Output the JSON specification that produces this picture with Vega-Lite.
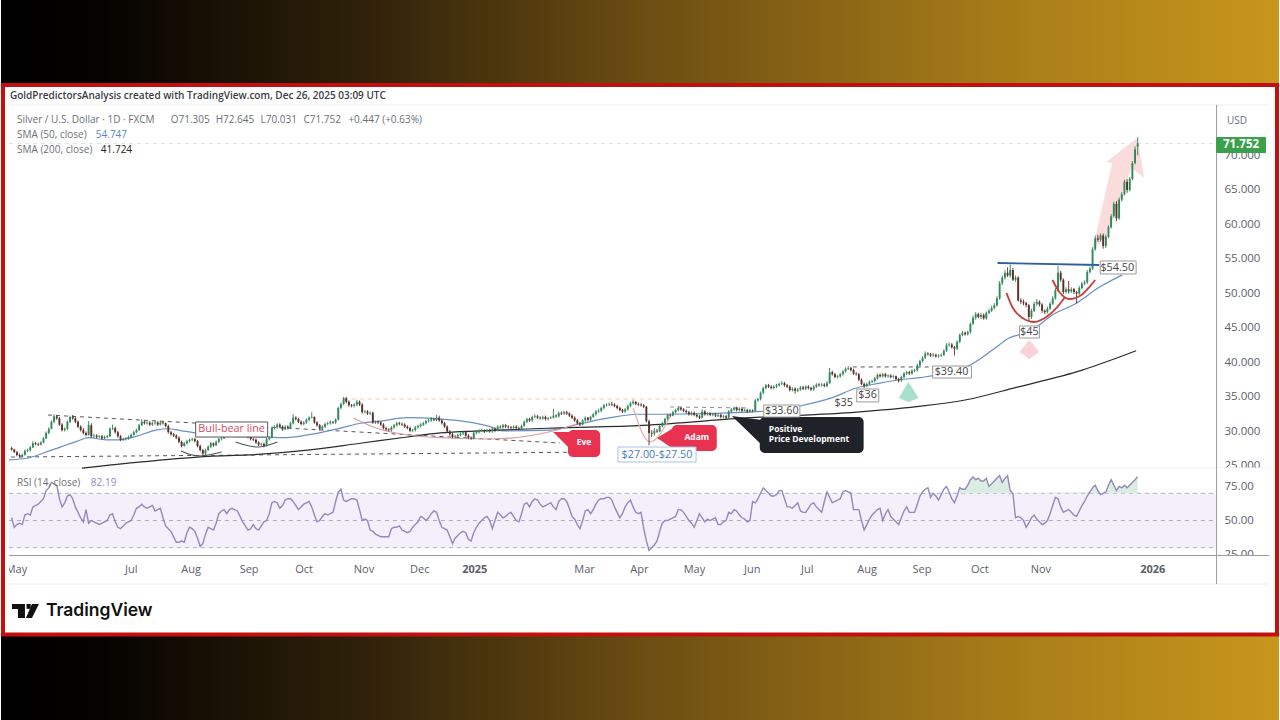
{
"$schema":"https://vega.github.io/schema/vega-lite/v6.json",
"width":1280,"height":720,"padding":{"left":0,"right":0,"top":0,"bottom":0},
"autosize":{"type":"fit","contains":"padding"},
"background":"white",
"config":{"view":{"stroke":null},"font":"Open Sans"},
"datasets":{
"candles":[
{"bar":4,"o":27.6,"h":27.8,"l":27.2,"c":27.4,"rsi":52},{"bar":5,"o":27.4,"h":27.5,"l":26.9,"c":27.0,"rsi":45},{"bar":6,"o":27.0,"h":27.2,"l":26.4,"c":26.6,"rsi":47},{"bar":7,"o":26.6,"h":26.8,"l":26.2,"c":26.4,"rsi":48},{"bar":8,"o":26.4,"h":26.8,"l":26.3,"c":26.6,"rsi":47},{"bar":9,"o":26.6,"h":27.4,"l":26.5,"c":27.2,"rsi":54},{"bar":10,"o":27.2,"h":27.5,"l":27.0,"c":27.3,"rsi":55},{"bar":11,"o":27.3,"h":27.9,"l":27.1,"c":27.7,"rsi":54},{"bar":12,"o":27.7,"h":28.6,"l":27.6,"c":28.3,"rsi":60},{"bar":13,"o":28.3,"h":28.5,"l":28.0,"c":28.2,"rsi":61},
{"bar":14,"o":28.2,"h":28.4,"l":27.9,"c":28.1,"rsi":62},{"bar":15,"o":28.1,"h":28.6,"l":28.0,"c":28.4,"rsi":64},{"bar":16,"o":28.4,"h":29.2,"l":28.3,"c":29.0,"rsi":66},{"bar":17,"o":29.0,"h":30.0,"l":28.9,"c":29.8,"rsi":72},{"bar":18,"o":29.8,"h":30.6,"l":29.6,"c":30.4,"rsi":74},{"bar":19,"o":30.4,"h":31.6,"l":30.3,"c":31.4,"rsi":78},{"bar":20,"o":31.4,"h":32.5,"l":31.2,"c":32.2,"rsi":77},{"bar":21,"o":32.2,"h":32.4,"l":31.7,"c":31.9,"rsi":76},{"bar":22,"o":31.9,"h":32.1,"l":30.8,"c":31.0,"rsi":66},{"bar":23,"o":31.0,"h":31.2,"l":30.0,"c":30.2,"rsi":60},
{"bar":24,"o":30.2,"h":30.6,"l":30.0,"c":30.4,"rsi":63},{"bar":25,"o":30.4,"h":31.6,"l":30.2,"c":31.4,"rsi":68},{"bar":26,"o":31.4,"h":32.3,"l":31.2,"c":32.1,"rsi":69},{"bar":27,"o":32.1,"h":32.4,"l":31.7,"c":31.9,"rsi":66},{"bar":28,"o":31.9,"h":32.1,"l":31.2,"c":31.4,"rsi":60},{"bar":29,"o":31.4,"h":31.6,"l":30.5,"c":30.7,"rsi":56},{"bar":30,"o":30.7,"h":30.9,"l":30.0,"c":30.2,"rsi":52},{"bar":31,"o":30.2,"h":30.5,"l":29.6,"c":29.8,"rsi":49},{"bar":32,"o":29.8,"h":30.0,"l":29.3,"c":29.5,"rsi":58},{"bar":33,"o":29.5,"h":31.5,"l":29.4,"c":30.9,"rsi":48},
{"bar":34,"o":30.9,"h":31.2,"l":29.1,"c":29.3,"rsi":50},{"bar":35,"o":29.3,"h":29.7,"l":29.1,"c":29.4,"rsi":49},{"bar":36,"o":29.4,"h":29.6,"l":29.0,"c":29.2,"rsi":48},{"bar":37,"o":29.2,"h":29.5,"l":29.0,"c":29.3,"rsi":47},{"bar":38,"o":29.3,"h":29.5,"l":28.8,"c":29.0,"rsi":48},{"bar":39,"o":29.0,"h":29.4,"l":28.9,"c":29.2,"rsi":49},{"bar":40,"o":29.2,"h":29.5,"l":29.0,"c":29.3,"rsi":50},{"bar":41,"o":29.3,"h":30.6,"l":29.2,"c":30.4,"rsi":54},{"bar":42,"o":30.4,"h":31.0,"l":30.2,"c":30.5,"rsi":55},{"bar":43,"o":30.5,"h":30.7,"l":29.7,"c":29.9,"rsi":49},
{"bar":44,"o":29.9,"h":30.1,"l":29.1,"c":29.3,"rsi":45},{"bar":45,"o":29.3,"h":29.5,"l":28.6,"c":28.8,"rsi":44},{"bar":46,"o":28.8,"h":29.1,"l":28.6,"c":28.9,"rsi":46},{"bar":47,"o":28.9,"h":29.2,"l":28.7,"c":29.0,"rsi":48},{"bar":48,"o":29.0,"h":29.4,"l":28.8,"c":29.2,"rsi":49},{"bar":49,"o":29.2,"h":29.7,"l":29.0,"c":29.5,"rsi":50},{"bar":50,"o":29.5,"h":30.1,"l":29.4,"c":29.9,"rsi":54},{"bar":51,"o":29.9,"h":30.4,"l":29.7,"c":30.2,"rsi":59},{"bar":52,"o":30.2,"h":31.1,"l":30.1,"c":30.9,"rsi":60},{"bar":53,"o":30.9,"h":31.8,"l":30.8,"c":31.4,"rsi":62},
{"bar":54,"o":31.4,"h":31.6,"l":31.0,"c":31.2,"rsi":60},{"bar":55,"o":31.2,"h":31.5,"l":31.0,"c":31.3,"rsi":59},{"bar":56,"o":31.3,"h":31.5,"l":30.8,"c":31.0,"rsi":60},{"bar":57,"o":31.0,"h":31.4,"l":30.8,"c":31.2,"rsi":61},{"bar":58,"o":31.2,"h":31.6,"l":31.0,"c":31.3,"rsi":57},{"bar":59,"o":31.3,"h":31.5,"l":30.8,"c":31.0,"rsi":58},{"bar":60,"o":31.0,"h":31.5,"l":30.9,"c":31.3,"rsi":59},{"bar":61,"o":31.3,"h":31.5,"l":31.0,"c":31.2,"rsi":52},{"bar":62,"o":31.2,"h":31.3,"l":30.6,"c":30.8,"rsi":46},{"bar":63,"o":30.8,"h":31.0,"l":29.7,"c":29.9,"rsi":44},
{"bar":64,"o":29.9,"h":30.1,"l":29.4,"c":29.6,"rsi":42},{"bar":65,"o":29.6,"h":29.8,"l":29.2,"c":29.4,"rsi":38},{"bar":66,"o":29.4,"h":29.6,"l":28.9,"c":29.1,"rsi":34},{"bar":67,"o":29.1,"h":29.3,"l":28.3,"c":28.5,"rsi":34},{"bar":68,"o":28.5,"h":28.7,"l":27.7,"c":27.9,"rsi":35},{"bar":69,"o":27.9,"h":28.5,"l":27.8,"c":28.3,"rsi":34},{"bar":70,"o":28.3,"h":28.8,"l":28.1,"c":28.6,"rsi":41},{"bar":71,"o":28.6,"h":29.0,"l":28.4,"c":28.8,"rsi":45},{"bar":72,"o":28.8,"h":29.1,"l":28.6,"c":28.9,"rsi":44},{"bar":73,"o":28.9,"h":29.1,"l":28.4,"c":28.6,"rsi":42},
{"bar":74,"o":28.6,"h":28.8,"l":27.7,"c":27.9,"rsi":37},{"bar":75,"o":27.9,"h":28.1,"l":27.1,"c":27.3,"rsi":31},{"bar":76,"o":27.3,"h":27.5,"l":26.5,"c":26.8,"rsi":33},{"bar":77,"o":26.8,"h":27.5,"l":26.6,"c":27.3,"rsi":40},{"bar":78,"o":27.3,"h":28.0,"l":27.2,"c":27.8,"rsi":45},{"bar":79,"o":27.8,"h":28.5,"l":27.6,"c":28.3,"rsi":44},{"bar":80,"o":28.3,"h":28.4,"l":27.8,"c":28.0,"rsi":43},{"bar":81,"o":28.0,"h":28.7,"l":27.9,"c":28.5,"rsi":48},{"bar":82,"o":28.5,"h":29.1,"l":28.3,"c":28.9,"rsi":55},{"bar":83,"o":28.9,"h":29.3,"l":28.7,"c":29.0,"rsi":57},
{"bar":84,"o":29.0,"h":29.7,"l":28.9,"c":29.5,"rsi":58},{"bar":85,"o":29.5,"h":30.1,"l":29.3,"c":29.9,"rsi":55},{"bar":86,"o":29.9,"h":30.4,"l":29.7,"c":30.1,"rsi":58},{"bar":87,"o":30.1,"h":30.3,"l":29.7,"c":29.9,"rsi":59},{"bar":88,"o":29.9,"h":30.2,"l":29.8,"c":30.0,"rsi":58},{"bar":89,"o":30.0,"h":30.5,"l":29.8,"c":30.3,"rsi":57},{"bar":90,"o":30.3,"h":30.4,"l":29.7,"c":29.9,"rsi":53},{"bar":91,"o":29.9,"h":30.1,"l":29.4,"c":29.6,"rsi":49},{"bar":92,"o":29.6,"h":29.8,"l":29.2,"c":29.4,"rsi":46},{"bar":93,"o":29.4,"h":29.6,"l":29.0,"c":29.2,"rsi":43},
{"bar":94,"o":29.2,"h":29.4,"l":28.7,"c":28.9,"rsi":44},{"bar":95,"o":28.9,"h":29.1,"l":28.6,"c":28.8,"rsi":47},{"bar":96,"o":28.8,"h":29.0,"l":28.2,"c":28.4,"rsi":44},{"bar":97,"o":28.4,"h":28.6,"l":27.9,"c":28.1,"rsi":43},{"bar":98,"o":28.1,"h":28.4,"l":27.9,"c":28.2,"rsi":46},{"bar":99,"o":28.2,"h":28.4,"l":27.7,"c":27.9,"rsi":49},{"bar":100,"o":27.9,"h":29.1,"l":27.8,"c":28.9,"rsi":50},{"bar":101,"o":28.9,"h":29.3,"l":28.7,"c":29.1,"rsi":55},{"bar":102,"o":29.1,"h":30.7,"l":29.0,"c":30.5,"rsi":63},{"bar":103,"o":30.5,"h":30.9,"l":30.3,"c":30.6,"rsi":64},
{"bar":104,"o":30.6,"h":31.2,"l":30.4,"c":31.0,"rsi":63},{"bar":105,"o":31.0,"h":31.2,"l":30.5,"c":30.7,"rsi":59},{"bar":106,"o":30.7,"h":30.9,"l":30.1,"c":30.3,"rsi":61},{"bar":107,"o":30.3,"h":30.9,"l":30.2,"c":30.7,"rsi":65},{"bar":108,"o":30.7,"h":30.9,"l":30.3,"c":30.5,"rsi":66},{"bar":109,"o":30.5,"h":31.4,"l":30.4,"c":31.2,"rsi":66},{"bar":110,"o":31.2,"h":32.5,"l":31.0,"c":32.0,"rsi":64},{"bar":111,"o":32.0,"h":32.2,"l":31.6,"c":31.8,"rsi":61},{"bar":112,"o":31.8,"h":32.0,"l":31.2,"c":31.4,"rsi":58},{"bar":113,"o":31.4,"h":31.6,"l":30.9,"c":31.1,"rsi":60},
{"bar":114,"o":31.1,"h":31.5,"l":30.9,"c":31.3,"rsi":62},{"bar":115,"o":31.3,"h":31.9,"l":31.1,"c":31.7,"rsi":63},{"bar":116,"o":31.7,"h":32.2,"l":31.5,"c":32.0,"rsi":64},{"bar":117,"o":32.0,"h":32.8,"l":31.9,"c":32.1,"rsi":60},{"bar":118,"o":32.1,"h":32.2,"l":31.1,"c":31.3,"rsi":54},{"bar":119,"o":31.3,"h":31.5,"l":30.7,"c":30.9,"rsi":49},{"bar":120,"o":30.9,"h":31.1,"l":30.1,"c":30.4,"rsi":50},{"bar":121,"o":30.4,"h":30.9,"l":30.2,"c":30.7,"rsi":53},{"bar":122,"o":30.7,"h":31.3,"l":30.5,"c":31.1,"rsi":55},{"bar":123,"o":31.1,"h":31.4,"l":30.9,"c":31.2,"rsi":54},
{"bar":124,"o":31.2,"h":31.6,"l":31.0,"c":31.4,"rsi":55},{"bar":125,"o":31.4,"h":31.5,"l":31.1,"c":31.3,"rsi":56},{"bar":126,"o":31.3,"h":31.9,"l":31.1,"c":31.7,"rsi":64},{"bar":127,"o":31.7,"h":33.6,"l":31.6,"c":33.4,"rsi":71},{"bar":128,"o":33.4,"h":34.2,"l":33.2,"c":34.0,"rsi":73},{"bar":129,"o":34.0,"h":35.0,"l":33.8,"c":34.8,"rsi":65},{"bar":130,"o":34.8,"h":35.0,"l":34.1,"c":34.3,"rsi":64},{"bar":131,"o":34.3,"h":34.5,"l":33.6,"c":33.8,"rsi":65},{"bar":132,"o":33.8,"h":34.0,"l":33.5,"c":33.7,"rsi":66},{"bar":133,"o":33.7,"h":34.1,"l":33.5,"c":33.9,"rsi":66},
{"bar":134,"o":33.9,"h":34.6,"l":33.7,"c":34.3,"rsi":65},{"bar":135,"o":34.3,"h":34.5,"l":33.7,"c":33.9,"rsi":58},{"bar":136,"o":33.9,"h":34.1,"l":32.6,"c":32.8,"rsi":50},{"bar":137,"o":32.8,"h":33.1,"l":32.6,"c":32.9,"rsi":51},{"bar":138,"o":32.9,"h":33.1,"l":32.4,"c":32.6,"rsi":50},{"bar":139,"o":32.6,"h":32.9,"l":32.4,"c":32.7,"rsi":43},{"bar":140,"o":32.7,"h":32.9,"l":31.1,"c":31.3,"rsi":42},{"bar":141,"o":31.3,"h":31.6,"l":31.1,"c":31.4,"rsi":40},{"bar":142,"o":31.4,"h":31.6,"l":31.1,"c":31.3,"rsi":39},{"bar":143,"o":31.3,"h":31.5,"l":30.8,"c":31.0,"rsi":38},
{"bar":144,"o":31.0,"h":31.2,"l":30.3,"c":30.5,"rsi":38},{"bar":145,"o":30.5,"h":30.7,"l":30.1,"c":30.3,"rsi":38},{"bar":146,"o":30.3,"h":30.5,"l":30.0,"c":30.2,"rsi":38},{"bar":147,"o":30.2,"h":30.8,"l":30.0,"c":30.6,"rsi":44},{"bar":148,"o":30.6,"h":31.1,"l":30.4,"c":30.9,"rsi":45},{"bar":149,"o":30.9,"h":31.4,"l":30.7,"c":31.2,"rsi":45},{"bar":150,"o":31.2,"h":31.4,"l":30.9,"c":31.1,"rsi":46},{"bar":151,"o":31.1,"h":31.3,"l":30.8,"c":31.0,"rsi":43},{"bar":152,"o":31.0,"h":31.2,"l":30.5,"c":30.7,"rsi":42},{"bar":153,"o":30.7,"h":30.9,"l":30.3,"c":30.5,"rsi":41},
{"bar":154,"o":30.5,"h":30.7,"l":29.9,"c":30.1,"rsi":42},{"bar":155,"o":30.1,"h":30.4,"l":29.9,"c":30.2,"rsi":45},{"bar":156,"o":30.2,"h":30.8,"l":30.0,"c":30.6,"rsi":47},{"bar":157,"o":30.6,"h":31.0,"l":30.4,"c":30.8,"rsi":49},{"bar":158,"o":30.8,"h":31.2,"l":30.6,"c":31.0,"rsi":53},{"bar":159,"o":31.0,"h":31.4,"l":30.8,"c":31.2,"rsi":52},{"bar":160,"o":31.2,"h":31.7,"l":31.0,"c":31.5,"rsi":50},{"bar":161,"o":31.5,"h":31.9,"l":31.3,"c":31.6,"rsi":52},{"bar":162,"o":31.6,"h":32.1,"l":31.4,"c":31.8,"rsi":55},{"bar":163,"o":31.8,"h":32.0,"l":31.5,"c":31.7,"rsi":57},
{"bar":164,"o":31.7,"h":32.4,"l":31.5,"c":32.0,"rsi":56},{"bar":165,"o":32.0,"h":32.3,"l":31.4,"c":31.6,"rsi":50},{"bar":166,"o":31.6,"h":31.8,"l":31.0,"c":31.2,"rsi":45},{"bar":167,"o":31.2,"h":31.4,"l":30.5,"c":30.7,"rsi":44},{"bar":168,"o":30.7,"h":30.9,"l":29.8,"c":30.0,"rsi":43},{"bar":169,"o":30.0,"h":30.2,"l":29.4,"c":29.6,"rsi":38},{"bar":170,"o":29.6,"h":29.8,"l":29.0,"c":29.2,"rsi":33},{"bar":171,"o":29.2,"h":29.5,"l":29.0,"c":29.3,"rsi":37},{"bar":172,"o":29.3,"h":29.7,"l":29.1,"c":29.5,"rsi":39},{"bar":173,"o":29.5,"h":29.9,"l":29.3,"c":29.7,"rsi":41},
{"bar":174,"o":29.7,"h":30.1,"l":29.5,"c":29.9,"rsi":42},{"bar":175,"o":29.9,"h":30.1,"l":29.2,"c":29.4,"rsi":41},{"bar":176,"o":29.4,"h":29.6,"l":28.9,"c":29.1,"rsi":36},{"bar":177,"o":29.1,"h":29.3,"l":28.8,"c":29.0,"rsi":35},{"bar":178,"o":29.0,"h":30.0,"l":28.9,"c":29.8,"rsi":41},{"bar":179,"o":29.8,"h":30.2,"l":29.6,"c":29.9,"rsi":45},{"bar":180,"o":29.9,"h":30.3,"l":29.7,"c":30.1,"rsi":48},{"bar":181,"o":30.1,"h":30.4,"l":29.9,"c":30.2,"rsi":50},{"bar":182,"o":30.2,"h":30.3,"l":29.8,"c":30.0,"rsi":52},{"bar":183,"o":30.0,"h":30.4,"l":29.9,"c":30.2,"rsi":53},
{"bar":184,"o":30.2,"h":30.4,"l":29.8,"c":30.0,"rsi":50},{"bar":185,"o":30.0,"h":30.6,"l":29.8,"c":30.4,"rsi":44},{"bar":186,"o":30.4,"h":30.6,"l":29.9,"c":30.1,"rsi":50},{"bar":187,"o":30.1,"h":30.9,"l":30.0,"c":30.7,"rsi":56},{"bar":188,"o":30.7,"h":30.9,"l":30.4,"c":30.6,"rsi":54},{"bar":189,"o":30.6,"h":31.1,"l":30.4,"c":30.9,"rsi":52},{"bar":190,"o":30.9,"h":31.1,"l":30.5,"c":30.7,"rsi":53},{"bar":191,"o":30.7,"h":30.9,"l":30.4,"c":30.6,"rsi":55},{"bar":192,"o":30.6,"h":30.8,"l":30.3,"c":30.5,"rsi":56},{"bar":193,"o":30.5,"h":30.9,"l":30.4,"c":30.7,"rsi":53},
{"bar":194,"o":30.7,"h":30.9,"l":30.3,"c":30.5,"rsi":50},{"bar":195,"o":30.5,"h":30.7,"l":30.2,"c":30.4,"rsi":49},{"bar":196,"o":30.4,"h":31.0,"l":30.3,"c":30.8,"rsi":55},{"bar":197,"o":30.8,"h":31.6,"l":30.7,"c":31.4,"rsi":62},{"bar":198,"o":31.4,"h":32.0,"l":31.2,"c":31.8,"rsi":63},{"bar":199,"o":31.8,"h":32.0,"l":31.4,"c":31.6,"rsi":60},{"bar":200,"o":31.6,"h":32.3,"l":31.4,"c":32.1,"rsi":64},{"bar":201,"o":32.1,"h":32.5,"l":31.9,"c":32.2,"rsi":66},{"bar":202,"o":32.2,"h":32.4,"l":31.8,"c":32.0,"rsi":65},{"bar":203,"o":32.0,"h":32.2,"l":31.7,"c":31.9,"rsi":62},
{"bar":204,"o":31.9,"h":32.3,"l":31.7,"c":32.1,"rsi":60},{"bar":205,"o":32.1,"h":32.3,"l":31.6,"c":31.8,"rsi":61},{"bar":206,"o":31.8,"h":32.1,"l":31.6,"c":31.9,"rsi":62},{"bar":207,"o":31.9,"h":32.2,"l":31.8,"c":32.0,"rsi":63},{"bar":208,"o":32.0,"h":33.3,"l":31.9,"c":32.3,"rsi":60},{"bar":209,"o":32.3,"h":32.5,"l":32.0,"c":32.2,"rsi":58},{"bar":210,"o":32.2,"h":32.9,"l":32.0,"c":32.7,"rsi":64},{"bar":211,"o":32.7,"h":32.9,"l":32.4,"c":32.6,"rsi":66},{"bar":212,"o":32.6,"h":33.0,"l":32.4,"c":32.8,"rsi":66},{"bar":213,"o":32.8,"h":33.0,"l":32.4,"c":32.6,"rsi":64},
{"bar":214,"o":32.6,"h":32.8,"l":32.1,"c":32.3,"rsi":59},{"bar":215,"o":32.3,"h":32.5,"l":31.8,"c":32.0,"rsi":53},{"bar":216,"o":32.0,"h":32.2,"l":31.4,"c":31.6,"rsi":51},{"bar":217,"o":31.6,"h":31.8,"l":31.0,"c":31.2,"rsi":47},{"bar":218,"o":31.2,"h":31.4,"l":30.8,"c":31.0,"rsi":44},{"bar":219,"o":31.0,"h":31.8,"l":30.9,"c":31.6,"rsi":50},{"bar":220,"o":31.6,"h":32.2,"l":31.4,"c":32.0,"rsi":57},{"bar":221,"o":32.0,"h":32.1,"l":31.5,"c":31.7,"rsi":58},{"bar":222,"o":31.7,"h":32.3,"l":31.5,"c":32.1,"rsi":55},{"bar":223,"o":32.1,"h":32.7,"l":32.0,"c":32.5,"rsi":58},
{"bar":224,"o":32.5,"h":33.1,"l":32.3,"c":32.9,"rsi":62},{"bar":225,"o":32.9,"h":33.3,"l":32.7,"c":33.0,"rsi":65},{"bar":226,"o":33.0,"h":33.6,"l":32.8,"c":33.4,"rsi":66},{"bar":227,"o":33.4,"h":34.0,"l":33.2,"c":33.8,"rsi":66},{"bar":228,"o":33.8,"h":34.1,"l":33.6,"c":33.9,"rsi":67},{"bar":229,"o":33.9,"h":34.2,"l":33.7,"c":34.0,"rsi":67},{"bar":230,"o":34.0,"h":34.3,"l":33.7,"c":33.9,"rsi":65},{"bar":231,"o":33.9,"h":34.1,"l":33.5,"c":33.7,"rsi":60},{"bar":232,"o":33.7,"h":33.9,"l":33.2,"c":33.4,"rsi":56},{"bar":233,"o":33.4,"h":33.6,"l":32.9,"c":33.1,"rsi":52},
{"bar":234,"o":33.1,"h":33.3,"l":32.7,"c":32.9,"rsi":55},{"bar":235,"o":32.9,"h":33.4,"l":32.7,"c":33.2,"rsi":60},{"bar":236,"o":33.2,"h":33.9,"l":33.0,"c":33.7,"rsi":63},{"bar":237,"o":33.7,"h":34.3,"l":33.5,"c":34.1,"rsi":65},{"bar":238,"o":34.1,"h":34.6,"l":33.9,"c":34.3,"rsi":60},{"bar":239,"o":34.3,"h":34.4,"l":33.8,"c":34.0,"rsi":56},{"bar":240,"o":34.0,"h":34.2,"l":33.7,"c":33.9,"rsi":55},{"bar":241,"o":33.9,"h":34.1,"l":33.6,"c":33.8,"rsi":56},{"bar":242,"o":33.8,"h":34.0,"l":33.4,"c":33.6,"rsi":44},{"bar":243,"o":33.6,"h":33.7,"l":31.3,"c":31.5,"rsi":35},
{"bar":244,"o":31.5,"h":31.7,"l":28.0,"c":29.8,"rsi":28},{"bar":245,"o":29.8,"h":30.2,"l":29.2,"c":29.7,"rsi":30},{"bar":246,"o":29.7,"h":30.5,"l":29.4,"c":30.1,"rsi":32},{"bar":247,"o":30.1,"h":30.4,"l":29.8,"c":30.0,"rsi":35},{"bar":248,"o":30.0,"h":31.0,"l":29.9,"c":30.8,"rsi":42},{"bar":249,"o":30.8,"h":31.4,"l":30.6,"c":31.2,"rsi":48},{"bar":250,"o":31.2,"h":32.0,"l":31.0,"c":31.8,"rsi":50},{"bar":251,"o":31.8,"h":32.6,"l":31.6,"c":32.4,"rsi":50},{"bar":252,"o":32.4,"h":32.6,"l":32.1,"c":32.3,"rsi":51},{"bar":253,"o":32.3,"h":33.0,"l":32.2,"c":32.8,"rsi":52},
{"bar":254,"o":32.8,"h":33.3,"l":32.6,"c":33.1,"rsi":53},{"bar":255,"o":33.1,"h":33.7,"l":32.9,"c":33.4,"rsi":58},{"bar":256,"o":33.4,"h":33.6,"l":33.0,"c":33.2,"rsi":58},{"bar":257,"o":33.2,"h":33.4,"l":32.8,"c":33.0,"rsi":56},{"bar":258,"o":33.0,"h":33.2,"l":32.6,"c":32.8,"rsi":53},{"bar":259,"o":32.8,"h":33.0,"l":32.3,"c":32.5,"rsi":50},{"bar":260,"o":32.5,"h":32.9,"l":32.3,"c":32.7,"rsi":48},{"bar":261,"o":32.7,"h":32.9,"l":32.2,"c":32.4,"rsi":45},{"bar":262,"o":32.4,"h":32.6,"l":32.0,"c":32.2,"rsi":50},{"bar":263,"o":32.2,"h":32.4,"l":31.8,"c":32.0,"rsi":55},
{"bar":264,"o":32.0,"h":33.2,"l":31.9,"c":32.9,"rsi":52},{"bar":265,"o":32.9,"h":33.1,"l":32.3,"c":32.5,"rsi":49},{"bar":266,"o":32.5,"h":32.8,"l":32.3,"c":32.6,"rsi":51},{"bar":267,"o":32.6,"h":32.8,"l":32.2,"c":32.4,"rsi":50},{"bar":268,"o":32.4,"h":32.7,"l":32.2,"c":32.5,"rsi":51},{"bar":269,"o":32.5,"h":32.7,"l":32.1,"c":32.3,"rsi":52},{"bar":270,"o":32.3,"h":32.6,"l":32.1,"c":32.4,"rsi":47},{"bar":271,"o":32.4,"h":32.6,"l":31.9,"c":32.1,"rsi":47},{"bar":272,"o":32.1,"h":32.4,"l":31.9,"c":32.2,"rsi":49},{"bar":273,"o":32.2,"h":32.4,"l":31.8,"c":32.0,"rsi":50},
{"bar":274,"o":32.0,"h":33.1,"l":31.9,"c":32.9,"rsi":56},{"bar":275,"o":32.9,"h":33.4,"l":32.7,"c":33.2,"rsi":55},{"bar":276,"o":33.2,"h":33.6,"l":33.0,"c":33.4,"rsi":58},{"bar":277,"o":33.4,"h":33.6,"l":32.9,"c":33.1,"rsi":57},{"bar":278,"o":33.1,"h":33.5,"l":32.9,"c":33.3,"rsi":54},{"bar":279,"o":33.3,"h":33.5,"l":32.8,"c":33.0,"rsi":52},{"bar":280,"o":33.0,"h":33.3,"l":32.9,"c":33.1,"rsi":51},{"bar":281,"o":33.1,"h":33.3,"l":32.7,"c":32.9,"rsi":49},{"bar":282,"o":32.9,"h":33.3,"l":32.7,"c":33.1,"rsi":50},{"bar":283,"o":33.1,"h":33.2,"l":32.8,"c":33.0,"rsi":64},
{"bar":284,"o":33.0,"h":34.7,"l":32.9,"c":34.5,"rsi":63},{"bar":285,"o":34.5,"h":34.9,"l":34.3,"c":34.7,"rsi":66},{"bar":286,"o":34.7,"h":35.8,"l":34.5,"c":35.6,"rsi":70},{"bar":287,"o":35.6,"h":36.5,"l":35.4,"c":36.3,"rsi":74},{"bar":288,"o":36.3,"h":36.9,"l":36.1,"c":36.7,"rsi":72},{"bar":289,"o":36.7,"h":36.9,"l":36.3,"c":36.5,"rsi":70},{"bar":290,"o":36.5,"h":36.7,"l":36.1,"c":36.3,"rsi":68},{"bar":291,"o":36.3,"h":36.7,"l":36.1,"c":36.5,"rsi":68},{"bar":292,"o":36.5,"h":36.9,"l":36.3,"c":36.7,"rsi":69},{"bar":293,"o":36.7,"h":37.1,"l":36.5,"c":36.9,"rsi":72},
{"bar":294,"o":36.9,"h":37.3,"l":36.7,"c":37.0,"rsi":72},{"bar":295,"o":37.0,"h":37.2,"l":36.5,"c":36.7,"rsi":66},{"bar":296,"o":36.7,"h":36.9,"l":36.3,"c":36.5,"rsi":60},{"bar":297,"o":36.5,"h":36.7,"l":35.8,"c":36.0,"rsi":60},{"bar":298,"o":36.0,"h":36.4,"l":35.8,"c":36.2,"rsi":59},{"bar":299,"o":36.2,"h":36.4,"l":35.5,"c":35.9,"rsi":61},{"bar":300,"o":35.9,"h":36.3,"l":35.7,"c":36.1,"rsi":63},{"bar":301,"o":36.1,"h":36.6,"l":35.9,"c":36.4,"rsi":57},{"bar":302,"o":36.4,"h":36.6,"l":36.0,"c":36.2,"rsi":56},{"bar":303,"o":36.2,"h":36.7,"l":36.0,"c":36.5,"rsi":56},
{"bar":304,"o":36.5,"h":36.7,"l":36.1,"c":36.3,"rsi":59},{"bar":305,"o":36.3,"h":36.5,"l":35.9,"c":36.1,"rsi":62},{"bar":306,"o":36.1,"h":36.7,"l":35.9,"c":36.5,"rsi":63},{"bar":307,"o":36.5,"h":37.0,"l":36.3,"c":36.8,"rsi":60},{"bar":308,"o":36.8,"h":37.0,"l":36.5,"c":36.7,"rsi":58},{"bar":309,"o":36.7,"h":37.0,"l":36.5,"c":36.8,"rsi":56},{"bar":310,"o":36.8,"h":37.0,"l":36.4,"c":36.6,"rsi":64},{"bar":311,"o":36.6,"h":37.3,"l":36.4,"c":37.0,"rsi":71},{"bar":312,"o":37.0,"h":39.2,"l":36.9,"c":38.6,"rsi":67},{"bar":313,"o":38.6,"h":38.8,"l":38.1,"c":38.3,"rsi":63},
{"bar":314,"o":38.3,"h":38.5,"l":37.7,"c":37.9,"rsi":64},{"bar":315,"o":37.9,"h":38.2,"l":37.7,"c":38.0,"rsi":65},{"bar":316,"o":38.0,"h":38.5,"l":37.8,"c":38.3,"rsi":66},{"bar":317,"o":38.3,"h":38.9,"l":38.1,"c":38.7,"rsi":71},{"bar":318,"o":38.7,"h":39.3,"l":38.5,"c":39.1,"rsi":72},{"bar":319,"o":39.1,"h":39.5,"l":38.9,"c":39.2,"rsi":71},{"bar":320,"o":39.2,"h":39.4,"l":38.7,"c":38.9,"rsi":70},{"bar":321,"o":38.9,"h":39.1,"l":38.2,"c":38.4,"rsi":58},{"bar":322,"o":38.4,"h":38.6,"l":38.1,"c":38.3,"rsi":58},{"bar":323,"o":38.3,"h":38.5,"l":37.3,"c":37.5,"rsi":58},
{"bar":324,"o":37.5,"h":37.7,"l":36.7,"c":36.9,"rsi":50},{"bar":325,"o":36.9,"h":37.1,"l":36.3,"c":36.6,"rsi":43},{"bar":326,"o":36.6,"h":37.1,"l":36.4,"c":36.9,"rsi":47},{"bar":327,"o":36.9,"h":37.4,"l":36.7,"c":37.2,"rsi":51},{"bar":328,"o":37.2,"h":37.5,"l":37.0,"c":37.3,"rsi":54},{"bar":329,"o":37.3,"h":37.9,"l":37.1,"c":37.7,"rsi":56},{"bar":330,"o":37.7,"h":38.4,"l":37.5,"c":38.2,"rsi":58},{"bar":331,"o":38.2,"h":38.4,"l":37.8,"c":38.0,"rsi":59},{"bar":332,"o":38.0,"h":38.5,"l":37.8,"c":38.3,"rsi":50},{"bar":333,"o":38.3,"h":38.5,"l":37.8,"c":38.0,"rsi":55},
{"bar":334,"o":38.0,"h":38.3,"l":37.8,"c":38.1,"rsi":58},{"bar":335,"o":38.1,"h":38.3,"l":37.7,"c":37.9,"rsi":53},{"bar":336,"o":37.9,"h":38.2,"l":37.7,"c":38.0,"rsi":51},{"bar":337,"o":38.0,"h":38.1,"l":37.4,"c":37.6,"rsi":49},{"bar":338,"o":37.6,"h":37.8,"l":37.1,"c":37.4,"rsi":47},{"bar":339,"o":37.4,"h":38.1,"l":37.2,"c":37.9,"rsi":52},{"bar":340,"o":37.9,"h":38.6,"l":37.7,"c":38.4,"rsi":57},{"bar":341,"o":38.4,"h":38.8,"l":38.2,"c":38.6,"rsi":60},{"bar":342,"o":38.6,"h":38.8,"l":38.2,"c":38.4,"rsi":56},{"bar":343,"o":38.4,"h":39.0,"l":38.2,"c":38.8,"rsi":56},
{"bar":344,"o":38.8,"h":39.1,"l":38.6,"c":38.9,"rsi":56},{"bar":345,"o":38.9,"h":39.8,"l":38.7,"c":39.6,"rsi":62},{"bar":346,"o":39.6,"h":40.4,"l":39.4,"c":40.2,"rsi":68},{"bar":347,"o":40.2,"h":40.9,"l":40.0,"c":40.7,"rsi":71},{"bar":348,"o":40.7,"h":41.6,"l":40.5,"c":41.3,"rsi":73},{"bar":349,"o":41.3,"h":41.5,"l":41.0,"c":41.2,"rsi":74},{"bar":350,"o":41.2,"h":41.4,"l":40.8,"c":41.0,"rsi":67},{"bar":351,"o":41.0,"h":41.4,"l":40.8,"c":41.1,"rsi":70},{"bar":352,"o":41.1,"h":41.3,"l":40.7,"c":40.9,"rsi":68},{"bar":353,"o":40.9,"h":41.2,"l":40.7,"c":41.0,"rsi":65},
{"bar":354,"o":41.0,"h":41.3,"l":40.8,"c":41.1,"rsi":69},{"bar":355,"o":41.1,"h":41.9,"l":40.9,"c":41.7,"rsi":73},{"bar":356,"o":41.7,"h":42.8,"l":41.5,"c":42.5,"rsi":75},{"bar":357,"o":42.5,"h":42.9,"l":42.3,"c":42.6,"rsi":71},{"bar":358,"o":42.6,"h":42.8,"l":42.0,"c":42.2,"rsi":66},{"bar":359,"o":42.2,"h":42.4,"l":41.0,"c":42.0,"rsi":63},{"bar":360,"o":42.0,"h":43.2,"l":41.8,"c":43.0,"rsi":68},{"bar":361,"o":43.0,"h":44.2,"l":42.8,"c":44.0,"rsi":74},{"bar":362,"o":44.0,"h":44.6,"l":43.8,"c":44.3,"rsi":73},{"bar":363,"o":44.3,"h":44.5,"l":43.9,"c":44.1,"rsi":73},
{"bar":364,"o":44.1,"h":44.6,"l":43.9,"c":44.4,"rsi":76},{"bar":365,"o":44.4,"h":45.8,"l":44.2,"c":45.6,"rsi":80},{"bar":366,"o":45.6,"h":46.8,"l":45.4,"c":46.5,"rsi":82},{"bar":367,"o":46.5,"h":47.3,"l":46.2,"c":47.0,"rsi":80},{"bar":368,"o":47.0,"h":47.2,"l":46.4,"c":46.6,"rsi":81},{"bar":369,"o":46.6,"h":47.2,"l":46.3,"c":46.9,"rsi":79},{"bar":370,"o":46.9,"h":47.1,"l":46.2,"c":46.4,"rsi":79},{"bar":371,"o":46.4,"h":47.4,"l":46.2,"c":47.2,"rsi":81},{"bar":372,"o":47.2,"h":47.8,"l":47.0,"c":47.5,"rsi":75},{"bar":373,"o":47.5,"h":48.2,"l":47.3,"c":47.9,"rsi":77},
{"bar":374,"o":47.9,"h":48.6,"l":47.7,"c":48.3,"rsi":79},{"bar":375,"o":48.3,"h":49.6,"l":48.1,"c":49.3,"rsi":81},{"bar":376,"o":49.3,"h":51.8,"l":49.1,"c":51.5,"rsi":83},{"bar":377,"o":51.5,"h":52.6,"l":51.2,"c":52.3,"rsi":78},{"bar":378,"o":52.3,"h":53.4,"l":52.0,"c":53.0,"rsi":81},{"bar":379,"o":53.0,"h":53.8,"l":52.4,"c":52.6,"rsi":83},{"bar":380,"o":52.6,"h":54.2,"l":52.3,"c":53.4,"rsi":72},{"bar":381,"o":53.4,"h":53.7,"l":51.8,"c":52.0,"rsi":70},{"bar":382,"o":52.0,"h":52.6,"l":51.7,"c":52.3,"rsi":52},{"bar":383,"o":52.3,"h":52.5,"l":48.8,"c":49.0,"rsi":53},
{"bar":384,"o":49.0,"h":49.3,"l":48.5,"c":48.8,"rsi":52},{"bar":385,"o":48.8,"h":49.1,"l":48.3,"c":48.6,"rsi":50},{"bar":386,"o":48.6,"h":48.8,"l":48.0,"c":48.3,"rsi":45},{"bar":387,"o":48.3,"h":48.5,"l":46.0,"c":46.6,"rsi":48},{"bar":388,"o":46.6,"h":47.8,"l":46.3,"c":47.5,"rsi":52},{"bar":389,"o":47.5,"h":48.8,"l":47.3,"c":48.5,"rsi":54},{"bar":390,"o":48.5,"h":49.2,"l":48.2,"c":48.8,"rsi":51},{"bar":391,"o":48.8,"h":49.0,"l":48.1,"c":48.4,"rsi":49},{"bar":392,"o":48.4,"h":48.6,"l":47.2,"c":47.5,"rsi":47},{"bar":393,"o":47.5,"h":47.7,"l":47.0,"c":47.3,"rsi":48},
{"bar":394,"o":47.3,"h":48.1,"l":47.1,"c":47.8,"rsi":50},{"bar":395,"o":47.8,"h":48.8,"l":47.6,"c":48.5,"rsi":55},{"bar":396,"o":48.5,"h":49.6,"l":48.3,"c":49.3,"rsi":61},{"bar":397,"o":49.3,"h":50.8,"l":49.1,"c":50.5,"rsi":67},{"bar":398,"o":50.5,"h":54.0,"l":50.3,"c":53.0,"rsi":66},{"bar":399,"o":53.0,"h":53.3,"l":51.7,"c":52.0,"rsi":60},{"bar":400,"o":52.0,"h":52.2,"l":49.9,"c":50.2,"rsi":56},{"bar":401,"o":50.2,"h":50.9,"l":50.0,"c":50.6,"rsi":57},{"bar":402,"o":50.6,"h":51.8,"l":50.0,"c":50.3,"rsi":58},{"bar":403,"o":50.3,"h":50.9,"l":50.1,"c":50.6,"rsi":56},
{"bar":404,"o":50.6,"h":50.8,"l":49.9,"c":50.2,"rsi":54},{"bar":405,"o":50.2,"h":50.4,"l":48.6,"c":50.0,"rsi":53},{"bar":406,"o":50.0,"h":51.1,"l":49.8,"c":50.8,"rsi":57},{"bar":407,"o":50.8,"h":51.7,"l":50.6,"c":51.4,"rsi":61},{"bar":408,"o":51.4,"h":51.9,"l":51.2,"c":51.6,"rsi":64},{"bar":409,"o":51.6,"h":53.4,"l":51.4,"c":53.1,"rsi":68},{"bar":410,"o":53.1,"h":53.9,"l":52.9,"c":53.6,"rsi":71},{"bar":411,"o":53.6,"h":56.7,"l":53.4,"c":56.4,"rsi":74},{"bar":412,"o":56.4,"h":58.4,"l":56.2,"c":58.0,"rsi":76},{"bar":413,"o":58.0,"h":58.5,"l":57.5,"c":57.8,"rsi":72},
{"bar":414,"o":57.8,"h":58.7,"l":57.5,"c":58.4,"rsi":69},{"bar":415,"o":58.4,"h":58.7,"l":56.5,"c":56.9,"rsi":70},{"bar":416,"o":56.9,"h":58.5,"l":56.6,"c":58.2,"rsi":71},{"bar":417,"o":58.2,"h":59.9,"l":58.0,"c":59.6,"rsi":76},{"bar":418,"o":59.6,"h":61.5,"l":59.4,"c":61.2,"rsi":80},{"bar":419,"o":61.2,"h":63.3,"l":61.0,"c":63.0,"rsi":76},{"bar":420,"o":63.0,"h":63.4,"l":60.5,"c":60.9,"rsi":72},{"bar":421,"o":60.9,"h":63.9,"l":60.7,"c":63.6,"rsi":75},{"bar":422,"o":63.6,"h":64.7,"l":63.3,"c":64.4,"rsi":74},{"bar":423,"o":64.4,"h":66.5,"l":64.2,"c":66.2,"rsi":76},
{"bar":424,"o":66.2,"h":66.6,"l":64.6,"c":65.0,"rsi":74},{"bar":425,"o":65.0,"h":66.9,"l":64.8,"c":66.6,"rsi":76},{"bar":426,"o":66.6,"h":69.2,"l":66.4,"c":68.9,"rsi":78},{"bar":427,"o":68.9,"h":71.3,"l":68.7,"c":70.9,"rsi":80},{"bar":428,"o":71.3,"h":72.65,"l":70.03,"c":71.75,"rsi":82.19}
],
"sma":[
{"line":"sma50","bar":3,"price":25.9},{"line":"sma50","bar":10.5,"price":26.2},{"line":"sma50","bar":19,"price":27.3},{"line":"sma50","bar":28,"price":28.5},{"line":"sma50","bar":33,"price":29.1},{"line":"sma50","bar":39.5,"price":28.8},{"line":"sma50","bar":44.4,"price":28.8},{"line":"sma50","bar":50.8,"price":29.3},{"line":"sma50","bar":58.3,"price":30.2},{"line":"sma50","bar":63,"price":30.4},{"line":"sma50","bar":68,"price":30.1},{"line":"sma50","bar":73.3,"price":29.8},{"line":"sma50","bar":86.5,"price":29.3},{"line":"sma50","bar":100.4,"price":29.2},{"line":"sma50","bar":106.4,"price":29.1},{"line":"sma50","bar":115.4,"price":29.5},{"line":"sma50","bar":127.8,"price":30.5},{"line":"sma50","bar":135.3,"price":31.2},{"line":"sma50","bar":142.9,"price":31.5},{"line":"sma50","bar":153,"price":32},{"line":"sma50","bar":165.4,"price":31.8},{"line":"sma50","bar":175.6,"price":31.4},{"line":"sma50","bar":184.2,"price":30.7},{"line":"sma50","bar":189,"price":30.1},{"line":"sma50","bar":206.8,"price":30.2},{"line":"sma50","bar":219,"price":31.2},{"line":"sma50","bar":229.3,"price":32},{"line":"sma50","bar":239.5,"price":32.5},{"line":"sma50","bar":250.8,"price":32.5},{"line":"sma50","bar":282,"price":32.8},{"line":"sma50","bar":300.8,"price":33.7},{"line":"sma50","bar":313,"price":34.9},{"line":"sma50","bar":322,"price":36.3},{"line":"sma50","bar":330.8,"price":37},{"line":"sma50","bar":338.3,"price":37.5},{"line":"sma50","bar":345.9,"price":37.8},{"line":"sma50","bar":364.7,"price":39.6},{"line":"sma50","bar":373.3,"price":41.8},{"line":"sma50","bar":379.7,"price":43.6},{"line":"sma50","bar":387.2,"price":44.4},{"line":"sma50","bar":395.9,"price":46.9},{"line":"sma50","bar":404.9,"price":48.6},{"line":"sma50","bar":413.5,"price":50.9},{"line":"sma50","bar":422.2,"price":52.7},
{"line":"sma200","bar":30.5,"price":24.7},{"line":"sma200","bar":53,"price":25.6},{"line":"sma200","bar":78.2,"price":26.4},{"line":"sma200","bar":93.2,"price":26.6},{"line":"sma200","bar":115.4,"price":27.3},{"line":"sma200","bar":135.3,"price":28.3},{"line":"sma200","bar":153,"price":29.2},{"line":"sma200","bar":165.4,"price":29.8},{"line":"sma200","bar":180.5,"price":30.1},{"line":"sma200","bar":207.9,"price":30.5},{"line":"sma200","bar":241.7,"price":30.9},{"line":"sma200","bar":282,"price":32},{"line":"sma200","bar":322.2,"price":32.8},{"line":"sma200","bar":344.7,"price":33.6},{"line":"sma200","bar":363.5,"price":34.6},{"line":"sma200","bar":382.3,"price":36.4},{"line":"sma200","bar":407.1,"price":38.9},{"line":"sma200","bar":427.4,"price":41.7},
{"line":"eve","bar":132.7,"price":31.96},{"line":"eve","bar":140.2,"price":30.65},{"line":"eve","bar":153,"price":29.49},{"line":"eve","bar":168,"price":29.06},{"line":"eve","bar":184.2,"price":28.91},{"line":"eve","bar":207.9,"price":30.07},{"line":"eve","bar":218,"price":31.23},
{"line":"adam","bar":238,"price":33.41},{"line":"adam","bar":244.4,"price":28.48},{"line":"adam","bar":251.9,"price":32.1},
{"line":"bowl1","bar":67.7,"price":27.17},{"line":"bowl1","bar":74.4,"price":26.45},{"line":"bowl1","bar":83.1,"price":27.03},
{"line":"bowl2","bar":88.3,"price":28.48},{"line":"bowl2","bar":96.6,"price":27.75},{"line":"bowl2","bar":104.1,"price":28.48}
],
"dashed":[
{"line":"top","bar":17.7,"price":32.39},{"line":"top","bar":210.5,"price":28.33},
{"line":"base","bar":3.8,"price":26.3},{"line":"base","bar":225.6,"price":27.03},
{"line":"hump","bar":251.9,"price":33.55},{"line":"hump","bar":282,"price":33.41},
{"line":"peak","bar":320.7,"price":39.35},{"line":"peak","bar":349.6,"price":39.35},
{"line":"resistance","bar":129,"price":34.71},{"line":"resistance","bar":282,"price":34.71},
{"line":"last","bar":3,"price":71.75},{"line":"last","bar":457.5,"price":71.75}
],
"arcs":[
{"line":"neck","bar":375.2,"price":54.42},{"line":"neck","bar":413.5,"price":54.13},
{"line":"cup","bar":378.6,"price":50.07},{"line":"cup","bar":380.8,"price":48.04},{"line":"cup","bar":384.6,"price":46.45},{"line":"cup","bar":389.1,"price":45.87},{"line":"cup","bar":393.6,"price":46.59},{"line":"cup","bar":397.7,"price":48.04},{"line":"cup","bar":400.4,"price":49.35},
{"line":"handle","bar":395.9,"price":51.96},{"line":"handle","bar":398.5,"price":50.22},{"line":"handle","bar":402.3,"price":49.2},{"line":"handle","bar":406.8,"price":49.78},{"line":"handle","bar":409.8,"price":50.94},{"line":"handle","bar":412,"price":51.96}
],
"arrows":[
{"shape":"up","seq":1,"bar":410.9,"price":56.3},{"shape":"up","seq":2,"bar":418.4,"price":68.91},{"shape":"up","seq":3,"bar":416.2,"price":69.06},{"shape":"up","seq":4,"bar":427.8,"price":72.54},{"shape":"up","seq":5,"bar":430.5,"price":66.74},{"shape":"up","seq":6,"bar":425.6,"price":68.19},{"shape":"up","seq":7,"bar":416.2,"price":58.19},
{"shape":"teal","seq":1,"bar":341.7,"price":37.17},{"shape":"teal","seq":2,"bar":338,"price":34.86},{"shape":"teal","seq":3,"bar":341.7,"price":34.28},{"shape":"teal","seq":4,"bar":345.5,"price":34.86},
{"shape":"pink","seq":1,"bar":387.2,"price":43.26},{"shape":"pink","seq":2,"bar":383.5,"price":41.52},{"shape":"pink","seq":3,"bar":387.2,"price":40.51},{"shape":"pink","seq":4,"bar":391,"price":41.52}
],
"tails":[
{"shape":"eve","seq":1,"bar":207.9,"price":29.93},{"shape":"eve","seq":2,"bar":214.3,"price":29.93},{"shape":"eve","seq":3,"bar":217.3,"price":26.3},
{"shape":"adam","seq":1,"bar":247,"price":29.06},{"shape":"adam","seq":2,"bar":253.8,"price":30.65},{"shape":"adam","seq":3,"bar":253.8,"price":27.32},
{"shape":"dark","seq":1,"bar":275.2,"price":32.25},{"shape":"dark","seq":2,"bar":286.5,"price":31.67},{"shape":"dark","seq":3,"bar":286.5,"price":28.04},
{"shape":"logoT","seq":1,"bar":4.14,"price":5},{"shape":"logoT","seq":2,"bar":9.02,"price":5},{"shape":"logoT","seq":3,"bar":9.02,"price":2.97},{"shape":"logoT","seq":4,"bar":6.39,"price":2.97},{"shape":"logoT","seq":5,"bar":6.39,"price":4.28},{"shape":"logoT","seq":6,"bar":4.14,"price":4.28},
{"shape":"logoDot","seq":1,"bar":9.6,"price":5},{"shape":"logoDot","seq":2,"bar":11.2,"price":5},{"shape":"logoDot","seq":3,"bar":11.2,"price":4.3},{"shape":"logoDot","seq":4,"bar":9.6,"price":4.3},
{"shape":"logoSlash","seq":1,"bar":11.65,"price":5},{"shape":"logoSlash","seq":2,"bar":14.29,"price":5},{"shape":"logoSlash","seq":3,"bar":11.65,"price":2.97},{"shape":"logoSlash","seq":4,"bar":9.4,"price":2.97}
],
"callouts":[
{"kind":"eve","bar":213.5,"bar2":225.6,"price":26.3,"price2":30.22},
{"kind":"adam","bar":252.6,"bar2":269.5,"price":27.17,"price2":30.94},
{"kind":"dark","bar":285.7,"bar2":324.8,"price":26.88,"price2":32.1}
],
"boxes":[
{"kind":"bull","label":"Bull-bear line","bar":73.3,"bar2":100.4,"price":29.2,"price2":31.38,"textBar":86.84,"textPrice":30.36},
{"kind":"blue","label":"$27.00-$27.50","bar":232.3,"bar2":261.7,"price":25.58,"price2":27.75,"textBar":246.99,"textPrice":26.59},
{"kind":"plain","label":"$33.60","bar":287.2,"bar2":300.8,"price":32.1,"price2":33.84,"textBar":294,"textPrice":32.97},
{"kind":"plain","label":"$39.40","bar":350.8,"bar2":365.4,"price":37.75,"price2":39.49,"textBar":357.9,"textPrice":38.62},
{"kind":"plain","label":"$36","bar":322.2,"bar2":330.5,"price":34.28,"price2":36.16,"textBar":326.3,"textPrice":35.29},
{"kind":"plain","label":"$45","bar":383.5,"bar2":391,"price":43.55,"price2":45.29,"textBar":387.2,"textPrice":44.42},
{"kind":"plain","label":"$54.50","bar":413.9,"bar2":427.4,"price":52.83,"price2":54.71,"textBar":420.3,"textPrice":53.7}
],
"calloutText":[
{"label":"Eve","bar":219.5,"price":28.48},
{"label":"Adam","bar":262,"price":29.2}
],
"darkText":[
{"label":"Positive","bar":289.1,"price":30.36},
{"label":"Price Development","bar":289.1,"price":28.91}
],
"legendText":[
{"kind":"muted","label":"Silver / U.S. Dollar · 1D · FXCM","bar":6.02,"price":75.14},
{"kind":"muted","label":"O71.305","bar":63.9,"price":75.14},
{"kind":"muted","label":"H72.645","bar":80.83,"price":75.14},
{"kind":"muted","label":"L70.031","bar":97.74,"price":75.14},
{"kind":"muted","label":"C71.752","bar":113.9,"price":75.14},
{"kind":"muted","label":"+0.447 (+0.63%)","bar":130.8,"price":75.14},
{"kind":"muted","label":"SMA (50, close)","bar":6.02,"price":72.97},
{"kind":"blue","label":"54.747","bar":35.7,"price":72.97},
{"kind":"muted","label":"SMA (200, close)","bar":6.02,"price":70.8},
{"kind":"dark","label":"41.724","bar":37.6,"price":70.8},
{"kind":"muted","label":"RSI (14, close)","bar":6.02,"price":22.54},
{"kind":"purple","label":"82.19","bar":33.83,"price":22.54},
{"kind":"muted","label":"USD","bar":461.65,"price":75}
],
"rsiLevels":[{"bar":3,"bar2":457.5,"rsi":70},{"bar":3,"bar2":457.5,"rsi":50},{"bar":3,"bar2":457.5,"rsi":30}],
"rsiBand":[{"bar":3,"bar2":457.5,"rsi":30,"rsi2":70}],
"rules":[
{"tone":"light","bar":3,"bar2":477.4,"price":77.32,"price2":77.32},
{"tone":"light","bar":3,"bar2":477.4,"price":24.71,"price2":24.71},
{"tone":"light","bar":3,"bar2":477.4,"price":7.9,"price2":7.9},
{"tone":"dark","bar":3,"bar2":477.4,"price":12.03,"price2":12.03},
{"tone":"dark","bar":457.7,"bar2":457.7,"price":77.32,"price2":7.9}
],
"masks":[
{"bar":458,"bar2":478,"price":24.7,"price2":24.1},
{"bar":458,"bar2":478,"price":11.96,"price2":11.09},
{"bar":1.5,"bar2":3,"price":11.38,"price2":8.48}
],
"tag":[{"label":"71.752","bar":457.5,"bar2":476.3,"price":70.36,"price2":72.68,"textBar":466.9,"textPrice":71.52}],
"bands":[{"bar":0,"bar2":481.2,"price":92.536,"price2":80.51},{"bar":0,"bar2":481.2,"price":0.36,"price2":-11.812}],
"border":[{"bar":0.75,"bar2":480.45,"price":80.22,"price2":0.58}],
"header":[{"label":"GoldPredictorsAnalysis created with TradingView.com, Dec 26, 2025 03:09 UTC","bar":3.38,"price":78.62}],
"logoWord":[{"label":"TradingView","bar":16.9,"price":3.99}]
},
"encoding":{
"x":{"field":"bar","type":"quantitative","scale":{"domain":[0,481.2],"padding":0},
"axis":{"orient":"bottom","offset":-164,"title":null,"grid":false,"domain":false,"ticks":false,"labelPadding":7,"labelFontSize":11,"labelColor":"#5d606b","labelOverlap":false,"labelFlush":false,"labelBound":false,
"values":[5.64,48.87,71.43,93.23,113.9,136.47,157.5,178.2,219.55,240.2,260.9,282.7,303.4,325.94,346.6,368.4,391.35,433.46],
"labelExpr":"['May','Jul','Aug','Sep','Oct','Nov','Dec','2025','Mar','Apr','May','Jun','Jul','Aug','Sep','Oct','Nov','2026'][indexof([5.64,48.87,71.43,93.23,113.9,136.47,157.5,178.2,219.55,240.2,260.9,282.7,303.4,325.94,346.6,368.4,391.35,433.46],datum.value)]",
"labelFontWeight":{"condition":{"test":"datum.value==178.2||datum.value==433.46","value":"bold"},"value":"normal"}}},
"y":{"field":"price","type":"quantitative","scale":{"domain":[-11.812,92.536]},"axis":null}
},
"layer":[
{"data":{"name":"rsiBand"},"mark":{"type":"rect","color":"#f3effb"},
 "encoding":{"x2":{"field":"bar2"},"y":{"field":"rsi","type":"quantitative","scale":{"domain":[-96.69,432.72]},
 "axis":{"orient":"right","offset":-55,"title":null,"grid":false,"domain":false,"ticks":false,"labelPadding":0,"labelFontSize":11.5,"labelColor":"#5d606b","values":[25,50,75],"format":".2f"}},"y2":{"field":"rsi2"}}},
{"data":{"name":"rsiLevels"},"mark":{"type":"rule","color":"#b0adbc","strokeWidth":1,"strokeDash":[4,4]},
 "encoding":{"x2":{"field":"bar2"},"y":{"field":"rsi","type":"quantitative","scale":{"domain":[-96.69,432.72]},"axis":null}}},
{"data":{"name":"candles"},"transform":[{"filter":"((datum.bar>=361&&datum.bar<=381)||datum.bar>=410)&&datum.rsi>=70"}],"mark":{"type":"area","color":"#dceee3"},
 "encoding":{"y":{"field":"rsi","type":"quantitative","scale":{"domain":[-96.69,432.72]},"axis":null},"y2":{"datum":70}}},
{"data":{"name":"candles"},"mark":{"type":"line","color":"#9289bd","strokeWidth":1.4},
 "encoding":{"y":{"field":"rsi","type":"quantitative","scale":{"domain":[-96.69,432.72]},"axis":null}}},
{"data":{"name":"rules"},"mark":{"type":"rule","strokeWidth":1},
 "encoding":{"x2":{"field":"bar2"},"y":{"field":"price","type":"quantitative","scale":{"domain":[-11.812,92.536]},
 "axis":{"orient":"right","offset":-55,"title":null,"grid":false,"domain":false,"ticks":false,"labelPadding":0,"labelFontSize":11.5,"labelColor":"#5d606b","values":[25,30,35,40,45,50,55,60,65,70],"format":".3f"}},"y2":{"field":"price2"},
 "color":{"field":"tone","type":"nominal","scale":{"domain":["light","dark"],"range":["#eeeeee","#9b9b9b"]},"legend":null}}},
{"data":{"name":"dashed"},"mark":{"type":"line","strokeWidth":1,"strokeDash":[4,4]},
 "encoding":{"color":{"field":"line","type":"nominal","scale":{"domain":["top","base","hump","peak","resistance","last"],"range":["#55585f","#55585f","#8a8d92","#55585f","#f6c9a4","#dfe1e4"]},"legend":null}}},
{"data":{"name":"arrows"},"mark":{"type":"line","strokeWidth":0},
 "encoding":{"order":{"field":"seq"},"fill":{"field":"shape","type":"nominal","scale":{"domain":["up","teal","pink"],"range":["#fbdcdd","#a8e0ce","#fad3d9"]},"legend":null}}},
{"data":{"name":"sma"},"mark":{"type":"line","strokeWidth":1.2,"interpolate":"monotone"},
 "encoding":{"color":{"field":"line","type":"nominal","scale":{"domain":["sma50","sma200","eve","adam","bowl1","bowl2"],"range":["#6a8fc4","#2b2b2b","#dc9a9c","#dcb3a8","#555555","#555555"]},"legend":null}}},
{"data":{"name":"candles"},"mark":{"type":"rule","strokeWidth":0.9},
 "encoding":{"y":{"field":"l","type":"quantitative","scale":{"domain":[-11.812,92.536]},"axis":null},"y2":{"field":"h"},
 "color":{"condition":{"test":"datum.c>=datum.o","value":"#2f7f55"},"value":"#5a3029"}}},
{"data":{"name":"candles"},"mark":{"type":"bar","size":1.9},
 "encoding":{"y":{"field":"o","type":"quantitative","scale":{"domain":[-11.812,92.536]},"axis":null},"y2":{"field":"c"},
 "color":{"condition":{"test":"datum.c>=datum.o","value":"#2f8a5a"},"value":"#5a3029"}}},
{"data":{"name":"arcs"},"mark":{"type":"line","strokeWidth":1.9,"interpolate":"monotone"},
 "encoding":{"color":{"field":"line","type":"nominal","scale":{"domain":["neck","cup","handle"],"range":["#2f5f9e","#c9413f","#c9413f"]},"legend":null}}},
{"data":{"name":"tails"},"mark":{"type":"line","strokeWidth":0},
 "encoding":{"order":{"field":"seq"},"fill":{"field":"shape","type":"nominal","scale":{"domain":["eve","adam","dark","logoT","logoDot","logoSlash"],"range":["#e8324f","#e8324f","#1f2229","#111111","#111111","#111111"]},"legend":null}}},
{"data":{"name":"callouts"},"mark":{"type":"rect","cornerRadius":5},
 "encoding":{"x2":{"field":"bar2"},"y2":{"field":"price2"},
 "color":{"field":"kind","type":"nominal","scale":{"domain":["eve","adam","dark"],"range":["#e8324f","#e8324f","#1f2229"]},"legend":null}}},
{"data":{"name":"boxes"},"mark":{"type":"rect","fill":"white","strokeWidth":1},
 "encoding":{"x2":{"field":"bar2"},"y2":{"field":"price2"},
 "stroke":{"field":"kind","type":"nominal","scale":{"domain":["bull","blue","plain"],"range":["#555555","#a9c2e0","#9a9a9a"]},"legend":null}}},
{"data":{"name":"boxes"},"mark":{"type":"text","fontSize":10.8,"fontWeight":500,"baseline":"middle","align":"center"},
 "encoding":{"x":{"field":"textBar","type":"quantitative"},"y":{"field":"textPrice","type":"quantitative","scale":{"domain":[-11.812,92.536]},"axis":null},"text":{"field":"label"},
 "color":{"field":"kind","type":"nominal","scale":{"domain":["bull","blue","plain"],"range":["#dc4a62","#4a7cb8","#444444"]},"legend":null}}},
{"data":{"values":[{"label":"$35","bar":317.3,"price":34.13}]},"mark":{"type":"text","fontSize":10.8,"baseline":"middle","align":"center","color":"#444444"},
 "encoding":{"text":{"field":"label"}}},
{"data":{"name":"calloutText"},"mark":{"type":"text","fontSize":8.5,"fontWeight":"bold","baseline":"middle","align":"center","color":"white"},
 "encoding":{"text":{"field":"label"}}},
{"data":{"name":"darkText"},"mark":{"type":"text","fontSize":8.5,"fontWeight":"bold","baseline":"middle","align":"left","color":"white"},
 "encoding":{"text":{"field":"label"}}},
{"data":{"name":"legendText"},"mark":{"type":"text","fontSize":10,"baseline":"middle","align":"left"},
 "encoding":{"text":{"field":"label"},
 "color":{"field":"kind","type":"nominal","scale":{"domain":["muted","blue","dark","purple"],"range":["#6c6f78","#5b87c5","#222222","#9289bd"]},"legend":null}}},
{"data":{"name":"header"},"mark":{"type":"text","fontSize":10,"fontWeight":600,"baseline":"middle","align":"left","color":"#3a3d45"},
 "encoding":{"text":{"field":"label"}}},
{"data":{"name":"logoWord"},"mark":{"type":"text","font":"Inter","fontSize":17.5,"fontWeight":600,"baseline":"middle","align":"left","color":"#111111"},
 "encoding":{"text":{"field":"label"}}},
{"data":{"name":"masks"},"mark":{"type":"rect","color":"white"},
 "encoding":{"x2":{"field":"bar2"},"y2":{"field":"price2"}}},
{"data":{"name":"tag"},"mark":{"type":"rect","color":"#3aa04a"},
 "encoding":{"x2":{"field":"bar2"},"y2":{"field":"price2"}}},
{"data":{"name":"tag"},"mark":{"type":"text","fontSize":11.5,"fontWeight":"bold","baseline":"middle","align":"center","color":"white"},
 "encoding":{"x":{"field":"textBar","type":"quantitative"},"y":{"field":"textPrice","type":"quantitative","scale":{"domain":[-11.812,92.536]},"axis":null},"text":{"field":"label"}}},
{"data":{"name":"bands"},"mark":{"type":"rect","fill":{"gradient":"linear","x1":0,"y1":0,"x2":1,"y2":0,"stops":[{"offset":0,"color":"#000000"},{"offset":0.08,"color":"#050300"},{"offset":0.3,"color":"#33240a"},{"offset":0.5,"color":"#6b4d12"},{"offset":0.78,"color":"#a67b18"},{"offset":1,"color":"#c8961c"}]}},
 "encoding":{"x2":{"field":"bar2"},"y2":{"field":"price2"}}},
{"data":{"name":"border"},"mark":{"type":"rect","fill":null,"stroke":"#c40f0f","strokeWidth":4},
 "encoding":{"x2":{"field":"bar2"},"y2":{"field":"price2"}}}
],
"resolve":{"scale":{"y":"independent","color":"independent","fill":"independent","stroke":"independent"},"axis":{"y":"independent"}}
}
